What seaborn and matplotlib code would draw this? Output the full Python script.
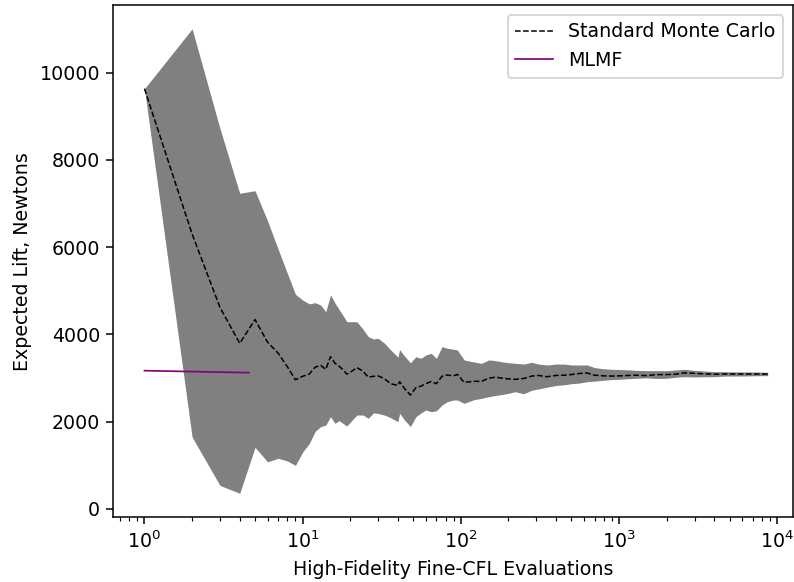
import matplotlib
matplotlib.use("Agg")
import matplotlib.pyplot as plt
import numpy as np
import pandas as pd
import seaborn as sns

# Running Monte Carlo estimate of expected lift vs. number of high-fidelity evaluations
n_evals = [1, 2, 3, 4, 5, 6, 7, 8, 9, 10,
           11, 12, 13, 14, 15, 16, 17, 18, 19, 20,
           22, 24, 26, 28, 30, 33, 36, 40, 41, 44,
           48, 52, 56, 60, 65, 70, 76, 82, 90, 95,
           105, 120, 135, 150, 165, 180, 200, 220, 250, 280,
           310, 350, 400, 450, 500, 560, 630, 700, 800, 900,
           1000, 1150, 1300, 1500, 1700, 2000, 2300, 2600, 3000, 3500,
           4000, 4600, 5300, 6100, 7000, 8000, 8700]

mc_mean = [9630, 6300, 4620, 3796, 4340, 3820, 3570, 3260, 2960, 3040,
           3090, 3250, 3290, 3200, 3490, 3340, 3270, 3190, 3090, 3130,
           3240, 3160, 3020, 3040, 3050, 2980, 2870, 2830, 2917, 2760,
           2610, 2780, 2815, 2870, 2920, 2870, 3040, 3070, 3050, 3085,
           2900, 2925, 2925, 2995, 3020, 3000, 2980, 2970, 2990, 3045,
           3060, 3030, 3060, 3065, 3080, 3105, 3115, 3065, 3050, 3045,
           3050, 3060, 3065, 3055, 3078, 3080, 3090, 3120, 3108, 3095,
           3088, 3093, 3093, 3093, 3093, 3093, 3093]

mc_upper = [9630, 11000, 8720, 7233, 7292, 6600, 5950, 5400, 4920, 4788,
            4700, 4727, 4674, 4520, 4903, 4720, 4570, 4433, 4291, 4291,
            4291, 4124, 3947, 3895, 3911, 3794, 3643, 3480, 3650, 3505,
            3350, 3490, 3452, 3528, 3567, 3450, 3718, 3682, 3660, 3643,
            3414, 3370, 3338, 3414, 3400, 3375, 3350, 3338, 3320, 3360,
            3320, 3299, 3320, 3320, 3300, 3299, 3299, 3240, 3212, 3200,
            3195, 3188, 3175, 3170, 3170, 3169, 3185, 3200, 3175, 3160,
            3146, 3146, 3142, 3139, 3139, 3135, 3132]

mc_lower = [9630, 1650, 540, 359, 1413, 1080, 1161, 1100, 1000, 1306,
            1500, 1780, 1886, 1924, 2115, 1963, 2023, 1960, 1901, 1990,
            2153, 2153, 2078, 2200, 2190, 2150, 2090, 2000, 2192, 2040,
            1890, 2115, 2200, 2268, 2229, 2250, 2383, 2458, 2497, 2497,
            2421, 2500, 2536, 2573, 2600, 2620, 2651, 2687, 2640, 2720,
            2750, 2790, 2830, 2845, 2870, 2885, 2917, 2930, 2950, 2965,
            2971, 2985, 2995, 3005, 2990, 2994, 3020, 3031, 3025, 3030,
            3031, 3045, 3047, 3047, 3052, 3055, 3055]

# Multilevel multifidelity estimate
mlmf_evals = [1, 4.56]
mlmf_mean = [3169, 3123]

mc = pd.DataFrame({"n": n_evals, "mean": mc_mean,
                   "lo": mc_lower, "hi": mc_upper})
mlmf = pd.DataFrame({"n": mlmf_evals, "mean": mlmf_mean})

plt.rcParams["font.family"] = ["DejaVu Sans"]

dpi = 137
fig = plt.figure(figsize=(794 / dpi, 582 / dpi), dpi=dpi)
ax = fig.add_axes([0.1428, 0.1112, 0.9987 - 0.1428, 0.9909 - 0.1112])

ax.fill_between(mc["n"], mc["lo"], mc["hi"], color="grey", linewidth=0)
sns.lineplot(data=mc, x="n", y="mean", ax=ax, color="black",
             linestyle="--", linewidth=0.8, errorbar=None,
             label="Standard Monte Carlo")
sns.lineplot(data=mlmf, x="n", y="mean", ax=ax, color="purple",
             linewidth=0.9, errorbar=None, label="MLMF")

ax.set_xscale("log")
ax.set_xlim(0.636, 12570)
ax.set_ylim(-190, 11540)
ax.set_xlabel("High-Fidelity Fine-CFL Evaluations")
ax.set_ylabel("Expected Lift, Newtons")
ax.legend(loc="upper right")

fig.savefig("out.png", dpi=dpi)
